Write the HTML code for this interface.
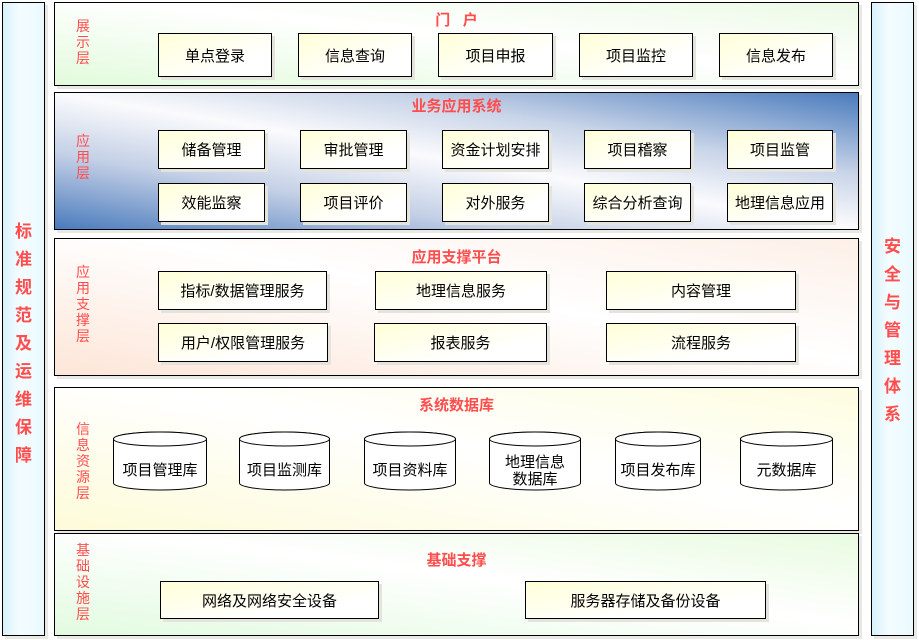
<!DOCTYPE html>
<html><head><meta charset="utf-8"><style>
body{margin:0;width:919px;height:640px;background:#fff;position:relative;overflow:hidden;font-family:"Liberation Sans","Noto Sans CJK SC",sans-serif;}
.a{position:absolute;box-sizing:border-box;}
.bar{border:1px solid #000;background:linear-gradient(to right,#d8f2fb,#f4fcff 40%,#eafaff);box-shadow:3px 3px 0 #e8e8e4;}
.bar span{position:absolute;left:0;width:100%;text-align:center;color:#ff4d4d;font-size:17px;font-weight:bold;line-height:28px;}
.L{border:1px solid #000;box-shadow:3px 3px 0 #e8e8e4;}
.t{position:absolute;left:0;width:100%;text-align:center;color:#ff4d4d;font-weight:bold;font-size:15px;}
.s{position:absolute;left:18px;width:20px;color:#ff4d4d;font-size:14px;line-height:16px;text-align:center;}
.b{position:absolute;border:1px solid #000;background:linear-gradient(to bottom right,#ffffd8,#fff 70%);box-shadow:3px 3px 0 #e4e4dc;display:flex;align-items:center;justify-content:center;font-size:15px;color:#000;box-sizing:border-box;}
.c{position:absolute;}
.c div{position:absolute;left:0;width:100%;text-align:center;font-size:15px;line-height:17px;}
</style></head><body>
<div class="a bar" style="left:2px;top:2px;width:43px;height:634px;"><span style="top:215px">标<br>准<br>规<br>范<br>及<br>运<br>维<br>保<br>障</span></div>
<div class="a bar" style="left:871px;top:2px;width:43px;height:634px;"><span style="top:230px">安<br>全<br>与<br>管<br>理<br>体<br>系</span></div>

<div class="a L" style="left:54px;top:2px;width:805px;height:84px;background:linear-gradient(to top right,#e2fbdc,#fff 55%,#ecfae6);">
<div class="t" style="top:6px">门&nbsp;&nbsp;&nbsp;户</div>
<div class="s" style="top:15px">展<br>示<br>层</div>
</div>
<div class="b" style="left:158px;top:33px;width:114px;height:44px;">单点登录</div>
<div class="b" style="left:298px;top:33px;width:114px;height:44px;">信息查询</div>
<div class="b" style="left:438px;top:33px;width:115px;height:44px;">项目申报</div>
<div class="b" style="left:579px;top:33px;width:114px;height:44px;">项目监控</div>
<div class="b" style="left:719px;top:33px;width:114px;height:44px;">信息发布</div>

<div class="a L" style="left:54px;top:92px;width:805px;height:138px;background:linear-gradient(to bottom left,#4a7bbd 0%,#c8d4e8 30%,#fbfbfd 50%,#c4d0e6 72%,#4a7bbd 100%);">
<div class="t" style="top:2px">业务应用系统</div>
<div class="s" style="top:40px">应<br>用<br>层</div>
</div>
<div class="b" style="left:158px;top:130px;width:107px;height:39px;">储备管理</div>
<div class="b" style="left:300px;top:130px;width:107px;height:39px;">审批管理</div>
<div class="b" style="left:442px;top:130px;width:107px;height:39px;">资金计划安排</div>
<div class="b" style="left:584px;top:130px;width:107px;height:39px;">项目稽察</div>
<div class="b" style="left:727px;top:130px;width:106px;height:39px;">项目监管</div>
<div class="b" style="left:158px;top:183px;width:107px;height:39px;">效能监察</div>
<div class="b" style="left:300px;top:183px;width:107px;height:39px;">项目评价</div>
<div class="b" style="left:442px;top:183px;width:107px;height:39px;">对外服务</div>
<div class="b" style="left:584px;top:183px;width:107px;height:39px;">综合分析查询</div>
<div class="b" style="left:727px;top:183px;width:106px;height:39px;">地理信息应用</div>

<div class="a L" style="left:54px;top:238px;width:805px;height:138px;background:linear-gradient(to top right,#fde6d8,#fff 55%,#fdf0e8);">
<div class="t" style="top:7px">应用支撑平台</div>
<div class="s" style="top:25px">应<br>用<br>支<br>撑<br>层</div>
</div>
<div class="b" style="left:158px;top:271px;width:169px;height:39px;">指标/数据管理服务</div>
<div class="b" style="left:375px;top:271px;width:172px;height:39px;">地理信息服务</div>
<div class="b" style="left:606px;top:271px;width:190px;height:39px;">内容管理</div>
<div class="b" style="left:158px;top:323px;width:170px;height:39px;">用户/权限管理服务</div>
<div class="b" style="left:374px;top:323px;width:173px;height:39px;">报表服务</div>
<div class="b" style="left:606px;top:323px;width:190px;height:39px;">流程服务</div>

<div class="a L" style="left:54px;top:387px;width:805px;height:144px;background:linear-gradient(to top right,#fdfbd8,#fff 55%,#fefde0);">
<div class="t" style="top:6px">系统数据库</div>
<div class="s" style="top:33px">信<br>息<br>资<br>源<br>层</div>
</div>

<svg class="a" style="left:0;top:0" width="919" height="640">
<g fill="#fff" stroke="#000" stroke-width="1">
<path d="M113.5 439 A46.5 7 0 0 1 206.5 439 V483 A46.5 7 0 0 1 113.5 483 Z"/><ellipse cx="160" cy="439" rx="46.5" ry="7"/>
<path d="M239.5 439 A45 7 0 0 1 329.5 439 V483 A45 7 0 0 1 239.5 483 Z"/><ellipse cx="284.5" cy="439" rx="45" ry="7"/>
<path d="M364.5 439 A45.5 7 0 0 1 455.5 439 V483 A45.5 7 0 0 1 364.5 483 Z"/><ellipse cx="410" cy="439" rx="45.5" ry="7"/>
<path d="M489.5 439 A45.5 7 0 0 1 580.5 439 V483 A45.5 7 0 0 1 489.5 483 Z"/><ellipse cx="535" cy="439" rx="45.5" ry="7"/>
<path d="M615.5 439 A42.5 7 0 0 1 700.5 439 V483 A42.5 7 0 0 1 615.5 483 Z"/><ellipse cx="658" cy="439" rx="42.5" ry="7"/>
<path d="M740.5 439 A46 7 0 0 1 832.5 439 V483 A46 7 0 0 1 740.5 483 Z"/><ellipse cx="786.5" cy="439" rx="46" ry="7"/>
</g>
<g font-family="Liberation Sans, Noto Sans CJK SC, sans-serif" font-size="15" text-anchor="middle" fill="#000">
<text x="160" y="475">项目管理库</text>
<text x="284.5" y="475">项目监测库</text>
<text x="410" y="475">项目资料库</text>
<text x="535" y="467">地理信息</text>
<text x="535" y="484">数据库</text>
<text x="658" y="475">项目发布库</text>
<text x="786.5" y="475">元数据库</text>
</g>
</svg>

<div class="a L" style="left:54px;top:533px;width:805px;height:103px;background:linear-gradient(to top right,#e2fbe0,#fff 55%,#e8fbe0);">
<div class="t" style="top:15px">基础支撑</div>
<div class="s" style="top:8px">基<br>础<br>设<br>施<br>层</div>
</div>
<div class="b" style="left:160px;top:581px;width:219px;height:38px;">网络及网络安全设备</div>
<div class="b" style="left:525px;top:581px;width:241px;height:38px;">服务器存储及备份设备</div>
</body></html>
